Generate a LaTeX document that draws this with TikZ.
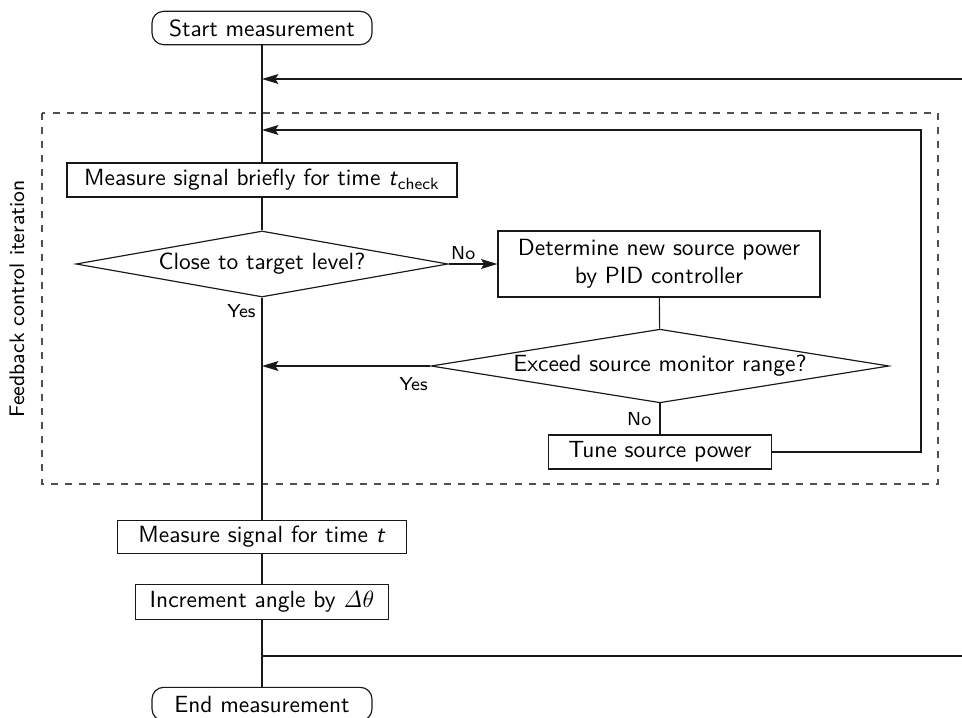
\documentclass[tikz,border=0pt]{standalone}
\usepackage{amsmath}
\usepackage{xcolor}
\renewcommand{\familydefault}{\sfdefault}
\usetikzlibrary{
  arrows.meta,
  shapes.geometric,
  positioning,
  calc
}
\definecolor{xline}{RGB}{25,25,25}
\definecolor{xframe}{RGB}{80,80,80}

\begin{document}
\begin{tikzpicture}[
  font=\sffamily,
  term/.style={draw=xline, line width=0.5pt, rounded corners=5pt, minimum width=3.3cm,
               minimum height=0.5cm, inner sep=2pt, align=center},
  stepbox/.style={draw=xline, line width=0.5pt, minimum height=0.51cm, inner sep=2pt, align=center},
  decide/.style={draw=xline, line width=0.5pt, diamond, aspect=5.6, inner sep=0pt,
                 minimum height=0.99cm, align=center},
  line/.style={draw=xline, line width=0.5pt},
  arr/.style={-{Stealth[length=7pt, width=4.2pt, inset=1.3pt]}, draw=xline, line width=0.5pt},
  tag/.style={font=\footnotesize\sffamily, inner sep=1.5pt},
  frame/.style={draw=xframe, dashed, line width=0.5pt}
]
  \useasboundingbox (0,0) rectangle (14.43,-10.77);

  % feedback loop frame
  \draw[frame] (0.63,-1.695) rectangle (14.07,-7.26);
  \node[rotate=90, font=\small\sffamily] (looptag) at (0.255,-4.485) {Feedback control iteration};

  \node[term]    (start)  at (3.93,-0.42)  {Start measurement};
  \node[stepbox, minimum width=5.85cm] (brief) at (3.93,-2.7)
        {Measure signal briefly for time \textit{t}\textsubscript{check}};
  \node[decide, minimum width=5.58cm]  (close) at (3.93,-3.96) {Close to target level?};
  \node[stepbox, minimum width=4.83cm, minimum height=0.99cm] (pid) at (9.885,-3.96)
        {Determine new source power\\by PID controller};
  \node[decide, minimum width=6.87cm, minimum height=1.0cm] (range) at (9.9,-5.49)
        {Exceed source monitor range?};
  \node[stepbox, minimum width=3.345cm] (tune) at (9.9,-6.78) {Tune source power};
  \node[stepbox, minimum width=4.335cm, minimum height=0.5cm] (meas) at (3.93,-8.055)
        {Measure signal for time \textit{t}};
  \node[stepbox, minimum width=3.8cm, minimum height=0.52cm] (incr) at (3.93,-9.03)
        {Increment angle by $\mathit{\Delta}\theta$};
  \node[term]    (end)    at (3.93,-10.56) {End measurement};

  \coordinate (outer) at (3.93,-1.185);
  \coordinate (inner) at (3.93,-1.95);
  \coordinate (rejoin) at (3.93,-5.49);
  \coordinate (next) at (3.93,-9.84);

  % main column
  \draw[line] (start) -- (brief);
  \draw[line] (brief) -- (close);
  \draw[line] (close) -- node[tag, pos=0.06, left, xshift=-1pt]{Yes} (meas);
  \draw[line] (meas) -- (incr);
  \draw[line] (incr) -- (end);

  % control branch
  \draw[arr]  (close.east) -- node[tag, pos=0.3, above]{No} (pid.west);
  \draw[line] (pid) -- (range);
  \draw[line] (range) -- node[tag, left, xshift=-2pt]{No} (tune);
  \draw[arr]  (range.west) -- node[tag, pos=0.1, below, yshift=-3pt]{Yes} (rejoin);
  \draw[arr]  (tune.east) -- (13.815,-6.78) -- (13.815,-1.95) -- (inner);

  % next angle
  \draw[arr]  (next) -- (15,-9.84) -- (15,-1.185) -- (outer);
\end{tikzpicture}
\end{document}
